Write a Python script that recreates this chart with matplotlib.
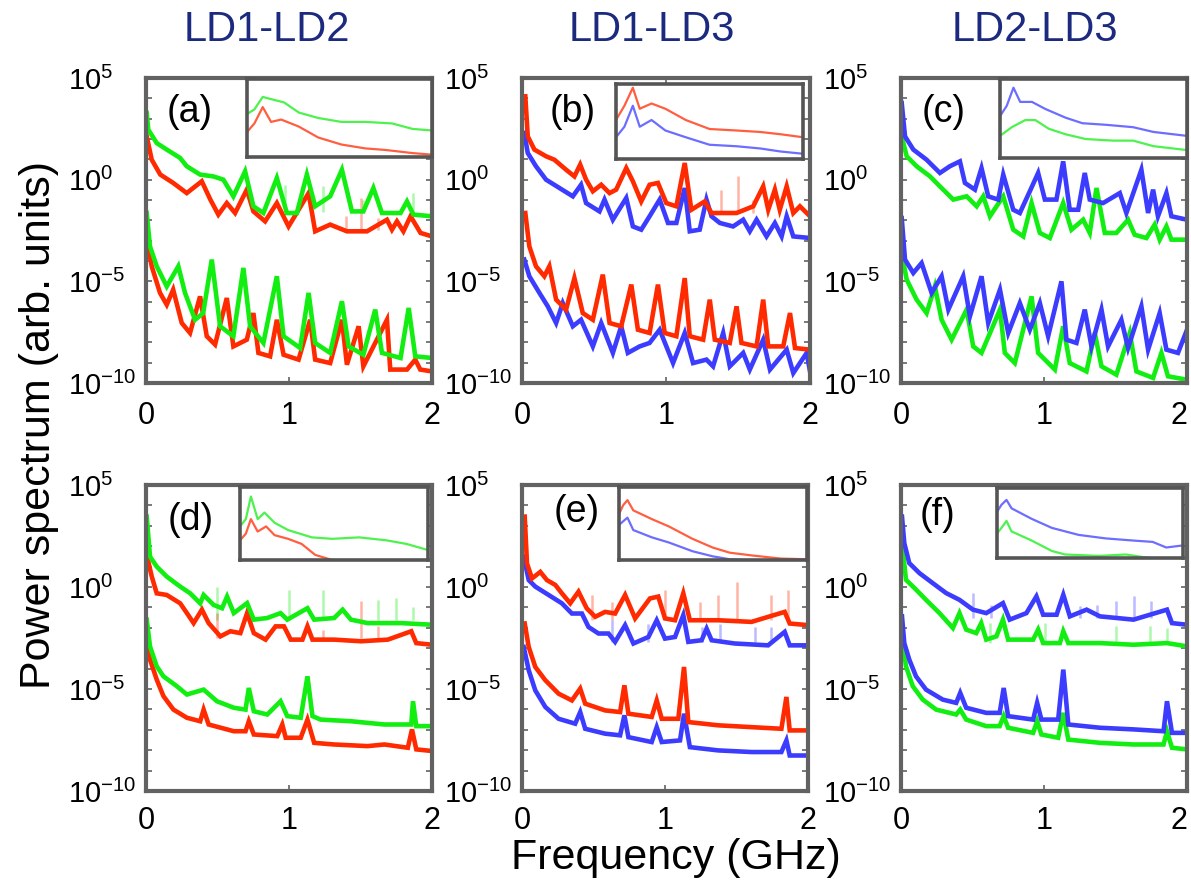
import numpy as np
import matplotlib
matplotlib.use("Agg")
import matplotlib.pyplot as plt

plt.rcParams['font.family'] = ['Liberation Sans', 'DejaVu Sans']
plt.rcParams['mathtext.fontset'] = 'custom'
plt.rcParams['mathtext.rm'] = 'Liberation Sans'
plt.rcParams['mathtext.it'] = 'Liberation Sans:italic'

# ---- data: frequency (GHz) and log10(power) ----
# panel (a)  LD1-LD2
a_grn_up_f = [0.005, 0.016, 0.075, 0.145, 0.238, 0.285, 0.378, 0.471, 0.541, 0.611, 0.693, 0.751, 0.821, 0.915,
              0.985, 1.055, 1.125, 1.183, 1.288, 1.37, 1.44, 1.52, 1.59, 1.65, 1.78, 1.825, 1.87, 2.0]
a_grn_up_p = [3.28, 2.46, 1.80, 1.48, 1.07, 0.66, 0.25, 0.16, 0.0, -0.82, 0.41, -1.31, -1.64, 0.08,
              -1.64, -1.64, 0.25, -1.31, -0.82, 0.49, -1.56, -1.56, -0.41, -1.64, -1.64, -1.07, -1.72, -1.80]
a_red_up_f = [0.005, 0.04, 0.10, 0.19, 0.285, 0.39, 0.45, 0.506, 0.565, 0.623, 0.705, 0.751, 0.833, 0.915,
              0.997, 1.137, 1.183, 1.288, 1.405, 1.545, 1.685, 1.72, 1.755, 1.80, 1.85, 1.92, 2.0]
a_red_up_p = [2.13, 0.98, 0.25, -0.16, -0.66, -0.08, -0.98, -1.72, -1.15, -1.64, -0.49, -1.56, -2.05, -1.15,
              -2.30, -0.66, -2.54, -2.21, -2.54, -2.54, -1.97, -2.46, -2.05, -2.54, -1.80, -2.62, -2.79]
a_grn_lo_f = [0.005, 0.028, 0.075, 0.145, 0.226, 0.273, 0.343, 0.40, 0.46, 0.518, 0.611, 0.681, 0.728, 0.821,
              0.915, 0.962, 1.078, 1.137, 1.183, 1.288, 1.37, 1.417, 1.52, 1.603, 1.65, 1.78, 1.837, 1.883, 2.0]
a_grn_lo_p = [-1.64, -3.28, -4.26, -5.25, -4.26, -5.57, -6.89, -6.56, -3.93, -7.21, -7.70, -4.34, -7.21, -8.03,
              -4.75, -7.70, -8.28, -5.57, -8.03, -8.52, -5.98, -8.20, -8.61, -6.39, -8.52, -8.77, -6.31, -8.69, -8.77]
a_red_lo_f = [0.005, 0.04, 0.098, 0.145, 0.19, 0.25, 0.308, 0.378, 0.425, 0.483, 0.565, 0.611, 0.705, 0.751,
              0.786, 0.868, 0.915, 0.962, 1.067, 1.148, 1.183, 1.288, 1.37, 1.405, 1.487, 1.52, 1.685, 1.708,
              1.825, 1.883, 1.918, 2.0]
a_red_lo_p = [-2.95, -4.26, -5.57, -6.15, -5.41, -7.05, -7.54, -5.74, -7.70, -8.11, -5.82, -8.20, -7.87, -6.56,
              -8.52, -8.69, -6.89, -8.61, -8.85, -6.89, -8.85, -9.02, -6.89, -9.10, -7.21, -9.18, -6.89, -9.34,
              -9.34, -8.85, -9.34, -9.43]
a_grn_spk_f = [0.973, 1.24, 1.52, 1.87]
a_grn_spk_p = [-0.25, -0.33, -1.0, -0.66]
a_red_spk_f = [1.40, 1.50, 1.62]
a_red_spk_p = [-1.8, -0.9, -1.9]

# panel (b)  LD1-LD3
b_red_up_f = [0.023, 0.04, 0.086, 0.167, 0.225, 0.306, 0.364, 0.404, 0.445, 0.492, 0.55, 0.608, 0.654, 0.724,
              0.77, 0.828, 0.886, 0.944, 1.002, 1.072, 1.13, 1.176, 1.269, 1.316, 1.49, 1.606, 1.675, 1.71,
              1.756, 1.79, 1.838, 1.884, 1.93, 2.0]
b_red_up_p = [4.10, 2.13, 1.48, 1.15, 0.98, 0.49, 0.16, 0.74, 0.0, -0.57, -0.25, -0.66, -0.49, 0.57,
              -0.08, -1.07, -0.25, -0.16, -1.15, -1.31, 0.82, -1.48, -1.07, -1.64, -1.64, -1.31, -0.33, -1.48,
              -0.49, -1.48, -0.33, -1.64, -1.31, -1.80]
b_blu_up_f = [0.016, 0.04, 0.097, 0.167, 0.26, 0.353, 0.41, 0.445, 0.538, 0.573, 0.631, 0.724, 0.77, 0.828,
              0.886, 0.956, 1.014, 1.072, 1.13, 1.165, 1.234, 1.281, 1.316, 1.374, 1.466, 1.536, 1.582, 1.629,
              1.698, 1.756, 1.803, 1.838, 1.884, 2.0]
b_blu_up_p = [2.30, 1.31, 0.66, 0.0, -0.41, -0.82, -0.25, -1.15, -1.56, -0.98, -1.97, -0.90, -2.30, -2.46,
              -1.80, -0.98, -2.13, -2.13, -0.41, -2.54, -2.46, -0.98, -1.80, -2.13, -2.30, -1.97, -2.54, -1.97,
              -2.79, -2.13, -2.79, -1.80, -2.79, -2.87]
b_red_lo_f = [0.023, 0.051, 0.097, 0.155, 0.19, 0.237, 0.306, 0.364, 0.422, 0.492, 0.561, 0.608, 0.689, 0.759,
              0.805, 0.886, 0.944, 0.991, 1.072, 1.13, 1.165, 1.258, 1.304, 1.339, 1.443, 1.49, 1.524, 1.629,
              1.675, 1.71, 1.814, 1.861, 1.896, 2.0]
b_red_lo_p = [-1.64, -3.28, -4.26, -4.75, -4.26, -5.90, -6.39, -4.84, -6.56, -6.89, -4.67, -7.05, -7.21, -5.16,
              -7.38, -7.54, -5.16, -7.54, -7.70, -4.84, -7.70, -7.87, -5.90, -7.87, -8.03, -6.23, -8.03, -8.20,
              -5.90, -8.20, -8.20, -6.56, -8.28, -8.36]
b_blu_lo_f = [0.016, 0.051, 0.121, 0.179, 0.237, 0.283, 0.353, 0.41, 0.492, 0.55, 0.631, 0.689, 0.735, 0.817,
              0.886, 0.956, 1.049, 1.13, 1.188, 1.281, 1.327, 1.397, 1.443, 1.536, 1.582, 1.675, 1.722, 1.838,
              1.884, 1.977, 2.0]
b_blu_lo_p = [-3.93, -4.75, -5.57, -6.23, -7.05, -6.07, -7.21, -6.89, -8.20, -7.05, -8.52, -7.21, -8.52, -8.20,
              -8.03, -7.38, -9.02, -7.54, -9.02, -8.85, -9.18, -7.54, -9.18, -8.52, -9.34, -7.87, -9.34, -8.36,
              -9.51, -8.52, -9.43]
b_red_spk_f = [1.385, 1.50, 1.606]
b_red_spk_p = [-0.49, 0.16, -1.0]

# panel (c)  LD2-LD3
c_blu_up_f = [0.005, 0.028, 0.086, 0.179, 0.272, 0.342, 0.412, 0.447, 0.517, 0.563, 0.61, 0.68, 0.715, 0.785,
              0.831, 0.901, 0.959, 1.006, 1.087, 1.134, 1.18, 1.239, 1.285, 1.32, 1.413, 1.53, 1.576, 1.681,
              1.728, 1.763, 1.797, 1.856, 1.891, 2.0]
c_blu_up_p = [3.77, 2.13, 1.48, 0.98, 0.33, 0.66, 0.90, -0.16, -0.49, 0.57, -0.82, -0.98, 0.25, -1.48,
              -1.64, -0.57, 0.33, -0.98, -0.98, 0.90, -1.48, -1.48, 0.33, -0.98, -1.15, -0.66, -1.64, 0.49,
              -1.64, -0.49, -1.80, -0.66, -1.80, -1.97]
c_grn_up_f = [0.005, 0.04, 0.109, 0.203, 0.272, 0.366, 0.459, 0.529, 0.575, 0.622, 0.668, 0.715, 0.785, 0.855,
              0.913, 0.971, 1.041, 1.134, 1.192, 1.274, 1.32, 1.367, 1.425, 1.506, 1.588, 1.634, 1.716, 1.774,
              1.809, 1.856, 1.891, 2.0]
c_grn_up_p = [2.13, 1.15, 0.66, 0.16, -0.33, -0.98, -0.82, -1.31, -0.82, -1.80, -1.31, -0.82, -2.46, -2.79,
              -1.15, -2.62, -2.87, -1.15, -2.46, -1.97, -2.62, -0.41, -2.62, -2.62, -1.97, -2.71, -2.87, -2.21,
              -2.95, -2.30, -2.95, -2.95]
c_blu_lo_f = [0.005, 0.028, 0.086, 0.144, 0.214, 0.284, 0.331, 0.435, 0.482, 0.563, 0.61, 0.692, 0.75, 0.831,
              0.901, 0.971, 1.029, 1.122, 1.157, 1.227, 1.285, 1.332, 1.402, 1.448, 1.541, 1.588, 1.681, 1.728,
              1.809, 1.856, 1.937, 2.0]
c_blu_lo_p = [-1.89, -3.93, -4.59, -4.10, -5.57, -4.75, -6.39, -4.75, -6.72, -4.75, -7.05, -5.41, -7.54, -6.07,
              -7.38, -6.07, -7.70, -5.0, -7.87, -8.03, -6.39, -8.20, -6.39, -8.20, -6.89, -8.28, -6.23, -8.36,
              -6.56, -8.36, -8.52, -7.38]
c_grn_lo_f = [0.005, 0.04, 0.109, 0.179, 0.237, 0.284, 0.354, 0.459, 0.505, 0.563, 0.692, 0.726, 0.796, 0.913,
              0.959, 1.076, 1.134, 1.18, 1.297, 1.355, 1.402, 1.506, 1.6, 1.646, 1.763, 1.821, 1.867, 2.0]
c_grn_lo_p = [-3.61, -4.92, -5.90, -6.56, -5.25, -6.89, -7.87, -6.39, -8.20, -8.52, -6.39, -8.52, -9.02, -5.74,
              -8.52, -9.34, -7.21, -9.02, -9.43, -7.54, -9.18, -9.59, -7.54, -9.43, -9.75, -8.52, -9.67, -9.84]

# panel (d)  LD1-LD2
d_grn_up_f = [0.005, 0.028, 0.075, 0.145, 0.239, 0.309, 0.379, 0.403, 0.473, 0.532, 0.567, 0.614, 0.707, 0.754,
              0.848, 0.941, 0.988, 1.129, 1.176, 1.316, 1.375, 1.433, 1.55, 1.667, 1.785, 2.0]
d_grn_up_p = [3.45, 1.49, 1.0, 0.51, 0.02, -0.31, -0.80, -0.39, -0.88, -1.04, -0.47, -1.28, -0.79, -1.60,
              -1.52, -1.28, -1.60, -1.04, -1.60, -1.52, -1.11, -1.60, -1.77, -1.77, -1.77, -1.85]
d_red_up_f = [0.005, 0.04, 0.075, 0.145, 0.239, 0.286, 0.333, 0.391, 0.438, 0.52, 0.59, 0.66, 0.707, 0.754,
              0.836, 0.906, 0.965, 1.012, 1.094, 1.129, 1.164, 1.316, 1.503, 1.691, 1.855, 1.89, 2.0]
d_red_up_p = [1.58, 0.52, -0.31, -0.39, -0.80, -1.28, -1.77, -1.11, -1.77, -2.42, -2.17, -2.26, -1.28, -2.26,
              -2.58, -1.93, -1.93, -2.58, -2.58, -1.93, -2.58, -2.58, -2.66, -2.58, -2.17, -2.75, -2.83]
d_grn_lo_f = [0.005, 0.028, 0.075, 0.122, 0.215, 0.286, 0.403, 0.496, 0.614, 0.696, 0.719, 0.754, 0.848, 0.941,
              0.988, 1.082, 1.129, 1.164, 1.222, 1.433, 1.667, 1.855, 1.867, 1.89, 2.0]
d_grn_lo_p = [-1.60, -2.91, -3.89, -4.38, -4.86, -5.27, -5.03, -5.60, -5.92, -6.01, -4.95, -6.09, -6.25, -5.60,
              -6.33, -6.41, -4.38, -6.33, -6.50, -6.58, -6.74, -6.74, -5.60, -6.82, -6.82]
d_red_lo_f = [0.005, 0.028, 0.075, 0.122, 0.192, 0.286, 0.379, 0.403, 0.438, 0.614, 0.696, 0.719, 0.754, 0.918,
              0.953, 0.977, 1.082, 1.129, 1.176, 1.316, 1.55, 1.667, 1.831, 1.86, 1.89, 2.0]
d_red_lo_p = [-2.75, -3.56, -4.54, -5.35, -6.01, -6.41, -6.58, -6.01, -6.74, -7.07, -7.07, -6.58, -7.23, -7.31,
              -6.74, -7.39, -7.39, -6.50, -7.64, -7.72, -7.80, -7.72, -7.88, -6.98, -7.96, -8.04]
d_grn_spk_f = [0.497, 1.0, 1.24, 1.62, 1.75, 1.87]
d_grn_spk_p = [0.02, -0.13, -0.13, -0.63, -0.54, -1.0]
d_red_spk_f = [0.497, 1.24, 1.50, 1.62]
d_red_spk_p = [-1.28, -2.1, -0.7, -1.9]

# panel (e)  LD1-LD3
e_red_up_f = [0.019, 0.035, 0.07, 0.128, 0.174, 0.233, 0.279, 0.337, 0.395, 0.453, 0.512, 0.581, 0.651, 0.721,
              0.791, 0.895, 0.953, 1.0, 1.07, 1.128, 1.174, 1.372, 1.605, 1.837, 1.872, 2.0]
e_red_up_p = [3.45, 1.15, 0.42, 0.74, 0.34, 0.10, -0.31, -0.80, -0.23, -1.05, -1.46, -1.22, -1.30, -0.39,
              -1.54, -0.56, -0.47, -1.54, -1.63, -0.31, -1.63, -1.63, -1.71, -1.22, -1.79, -1.87]
e_blu_up_f = [0.012, 0.047, 0.093, 0.186, 0.279, 0.349, 0.419, 0.465, 0.535, 0.605, 0.651, 0.721, 0.779, 0.884,
              0.942, 1.0, 1.07, 1.128, 1.163, 1.256, 1.291, 1.326, 1.488, 1.721, 1.837, 1.872, 2.0]
e_blu_up_p = [1.48, 0.34, 0.02, -0.39, -0.80, -1.30, -1.30, -1.96, -2.28, -2.28, -2.69, -1.87, -2.77, -2.45,
              -1.63, -2.53, -2.45, -1.38, -2.69, -2.61, -2.04, -2.61, -2.77, -2.86, -2.20, -2.86, -2.86]
e_red_lo_f = [0.019, 0.047, 0.093, 0.163, 0.256, 0.349, 0.407, 0.442, 0.581, 0.686, 0.716, 0.744, 0.907, 0.942,
              0.977, 1.093, 1.133, 1.163, 1.372, 1.605, 1.814, 1.849, 1.872, 2.0]
e_red_lo_p = [-1.79, -2.94, -3.92, -4.57, -5.23, -5.56, -4.98, -5.72, -6.05, -6.13, -4.82, -6.21, -6.37, -5.56,
              -6.46, -6.46, -3.92, -6.62, -6.78, -6.87, -6.95, -5.39, -7.03, -7.03]
e_blu_lo_f = [0.012, 0.047, 0.093, 0.163, 0.256, 0.372, 0.407, 0.442, 0.581, 0.686, 0.716, 0.744, 0.907, 0.942,
              0.977, 1.105, 1.133, 1.174, 1.372, 1.605, 1.814, 1.849, 1.872, 2.0]
e_blu_lo_p = [-2.94, -4.08, -5.07, -5.88, -6.46, -6.70, -6.13, -6.95, -7.19, -7.27, -6.29, -7.36, -7.60, -6.87,
              -7.60, -7.52, -6.21, -7.85, -8.01, -8.09, -8.09, -7.52, -8.26, -8.26]
e_red_spk_f = [0.488, 0.628, 1.0, 1.244, 1.372, 1.5, 1.744, 1.86]
e_red_spk_p = [-0.40, -0.73, -0.16, -0.73, -0.40, 0.25, -0.40, -0.16]
e_blu_spk_f = [0.628, 0.884, 1.256, 1.384, 1.628, 1.744]
e_blu_spk_p = [-1.63, -1.79, -1.96, -1.79, -1.96, -1.96]

# panel (f)  LD2-LD3
f_blu_up_f = [0.007, 0.023, 0.058, 0.129, 0.222, 0.316, 0.409, 0.503, 0.596, 0.713, 0.76, 0.877, 0.947, 0.994,
              1.088, 1.135, 1.181, 1.298, 1.392, 1.626, 1.86, 1.895, 2.0]
f_blu_up_p = [3.45, 2.15, 1.17, 0.68, 0.19, -0.30, -0.63, -1.11, -1.28, -0.79, -1.60, -1.28, -0.46, -1.36,
              -1.36, -0.38, -1.44, -1.11, -1.44, -1.60, -1.11, -1.77, -1.85]
f_grn_up_f = [0.007, 0.035, 0.094, 0.175, 0.269, 0.363, 0.409, 0.456, 0.526, 0.561, 0.596, 0.667, 0.713, 0.749,
              0.924, 0.959, 0.994, 1.111, 1.135, 1.17, 1.392, 1.626, 1.86, 2.0]
f_grn_up_p = [2.15, 0.35, -0.05, -0.63, -1.28, -2.01, -1.28, -2.09, -2.26, -1.77, -2.58, -2.42, -1.60, -2.58,
              -2.58, -2.09, -2.75, -2.75, -2.17, -2.75, -2.75, -2.83, -2.75, -2.91]
f_blu_lo_f = [0.007, 0.023, 0.058, 0.105, 0.175, 0.292, 0.386, 0.414, 0.456, 0.596, 0.69, 0.718, 0.749, 0.924,
              0.952, 0.982, 1.099, 1.135, 1.17, 1.392, 1.626, 1.836, 1.86, 1.895, 2.0]
f_blu_lo_p = [-1.44, -2.75, -3.56, -4.38, -5.03, -5.52, -5.68, -5.19, -5.92, -6.17, -6.17, -4.95, -6.33, -6.50,
              -5.68, -6.50, -6.50, -4.05, -6.74, -6.90, -6.98, -7.07, -5.60, -7.15, -7.15]
f_grn_lo_f = [0.007, 0.035, 0.082, 0.152, 0.246, 0.386, 0.414, 0.456, 0.596, 0.69, 0.718, 0.749, 0.924, 0.952,
              0.982, 1.099, 1.135, 1.17, 1.392, 1.626, 1.836, 1.86, 1.895, 2.0]
f_grn_lo_p = [-2.42, -3.89, -4.86, -5.52, -6.01, -6.25, -6.01, -6.50, -6.82, -6.82, -6.33, -6.90, -7.15, -6.58,
              -7.23, -7.39, -6.17, -7.48, -7.64, -7.72, -7.72, -7.07, -7.88, -7.96]
f_blu_spk_f = [0.503, 0.632, 1.25, 1.37, 1.5, 1.63, 1.75]
f_blu_spk_p = [-0.30, -0.87, -0.95, -0.87, -0.71, -0.46, -0.71]
f_grn_spk_f = [0.62, 1.006, 1.5, 1.74, 1.86]
f_grn_spk_p = [-1.77, -1.77, -1.93, -1.93, -2.01]

# insets (no scale given: relative position 0..1 inside each inset)
ia_grn_x = [0, 0.04, 0.085, 0.15, 0.2, 0.28, 0.385, 0.51, 0.64, 0.785, 0.895, 1.0]
ia_grn_y = [0.55, 0.61, 0.77, 0.73, 0.70, 0.57, 0.50, 0.45, 0.45, 0.43, 0.36, 0.34]
ia_red_x = [0, 0.04, 0.085, 0.13, 0.185, 0.28, 0.385, 0.51, 0.64, 0.75, 0.895, 1.0]
ia_red_y = [0.32, 0.43, 0.64, 0.45, 0.48, 0.39, 0.25, 0.16, 0.11, 0.09, 0.05, 0.03]
ib_red_x = [0, 0.045, 0.09, 0.127, 0.19, 0.264, 0.373, 0.5, 0.645, 0.773, 0.88, 1.0]
ib_red_y = [0.52, 0.71, 0.95, 0.67, 0.74, 0.67, 0.52, 0.40, 0.38, 0.36, 0.33, 0.29]
ib_blu_x = [0, 0.045, 0.09, 0.127, 0.19, 0.264, 0.373, 0.5, 0.645, 0.773, 0.88, 1.0]
ib_blu_y = [0.29, 0.43, 0.71, 0.43, 0.52, 0.38, 0.29, 0.19, 0.17, 0.14, 0.10, 0.07]
ic_blu_x = [0, 0.036, 0.072, 0.108, 0.171, 0.243, 0.351, 0.441, 0.568, 0.712, 0.82, 1.0]
ic_blu_y = [0.53, 0.66, 0.89, 0.71, 0.71, 0.62, 0.51, 0.44, 0.42, 0.39, 0.33, 0.28]
ic_grn_x = [0, 0.063, 0.135, 0.189, 0.261, 0.351, 0.459, 0.604, 0.712, 0.82, 1.0]
ic_grn_y = [0.28, 0.39, 0.48, 0.48, 0.37, 0.30, 0.24, 0.22, 0.22, 0.15, 0.10]
id_grn_x = [0, 0.031, 0.058, 0.094, 0.13, 0.184, 0.256, 0.382, 0.49, 0.634, 0.778, 0.886, 0.995]
id_grn_y = [0.46, 0.56, 0.87, 0.56, 0.65, 0.51, 0.41, 0.31, 0.29, 0.31, 0.27, 0.22, 0.14]
id_red_x = [0, 0.031, 0.058, 0.094, 0.139, 0.184, 0.256, 0.328, 0.4, 0.49, 0.562]
id_red_y = [0.27, 0.36, 0.56, 0.39, 0.46, 0.34, 0.29, 0.22, 0.07, 0.0, -0.02]
ie_red_x = [0, 0.022, 0.045, 0.076, 0.175, 0.265, 0.391, 0.499, 0.589, 0.715, 0.859, 1.0]
ie_red_y = [0.63, 0.75, 0.82, 0.68, 0.56, 0.46, 0.29, 0.17, 0.10, 0.06, 0.02, 0.01]
ie_blu_x = [0, 0.022, 0.045, 0.076, 0.175, 0.265, 0.391, 0.499, 0.589, 0.715, 0.859, 1.0]
ie_blu_y = [0.48, 0.53, 0.58, 0.41, 0.31, 0.24, 0.12, 0.05, 0.01, -0.005, -0.01, -0.01]
if_blu_x = [0, 0.024, 0.051, 0.078, 0.186, 0.295, 0.439, 0.584, 0.729, 0.837, 0.91, 1.0]
if_blu_y = [0.66, 0.76, 0.83, 0.71, 0.56, 0.43, 0.33, 0.28, 0.25, 0.23, 0.15, 0.18]
if_grn_x = [0, 0.024, 0.051, 0.078, 0.186, 0.295, 0.367, 0.548, 0.693, 0.819, 0.91]
if_grn_y = [0.35, 0.43, 0.53, 0.38, 0.25, 0.10, 0.05, 0.03, 0.05, 0.0, -0.03]

column_titles = ['LD1-LD2', 'LD1-LD3', 'LD2-LD3']
panel_tags = ['(a)', '(b)', '(c)', '(d)', '(e)', '(f)']
ytick_vals = [1e5, 1e0, 1e-5, 1e-10]
ytick_text = ['$10^{5}$', '$10^{0}$', '$10^{-5}$', '$10^{-10}$']
xtick_vals = [0, 1, 2]

GREEN = '#12ee12'
RED = '#ff2a00'
BLUE = '#3c3cff'
FRAME = '#626262'

W, H = 1191, 891


def px_box(x0, x1, ytop, ybot):
    return [x0 / W, 1 - ybot / H, (x1 - x0) / W, (ybot - ytop) / H]


def make_main(fig, box, bottom_row, last_col):
    ax = fig.add_axes(box)
    ax.set_yscale('log')
    ax.set_xlim(0, 2)
    ax.set_ylim(1e-10, 1e5)
    ax.set_xticks(xtick_vals)
    ax.set_xticklabels([str(v) for v in xtick_vals])
    ax.set_yticks(ytick_vals)
    ax.set_yticklabels(ytick_text)
    ax.set_yticks([10.0 ** k for k in range(-10, 6)], minor=True)
    ax.yaxis.set_minor_formatter(plt.NullFormatter())
    ax.tick_params(axis='both', which='both', direction='in', top=True, right=True,
                   color=FRAME, length=4, width=1.2)
    ax.tick_params(axis='x', labelsize=22, pad=11 if bottom_row else 13)
    ax.tick_params(axis='y', which='major', labelsize=21, pad=56)
    for lbl in ax.get_yticklabels():
        lbl.set_horizontalalignment('left')
    if last_col:
        ax.get_xticklabels()[-1].set_horizontalalignment('right')
    for sp in ax.spines.values():
        sp.set_color(FRAME)
        sp.set_linewidth(3.0)
    return ax


def make_inset(fig, box):
    ax = fig.add_axes(box)
    ax.set_xlim(0, 1)
    ax.set_ylim(0, 1)
    ax.set_xticks([])
    ax.set_yticks([])
    for sp in ax.spines.values():
        sp.set_color('#555555')
        sp.set_linewidth(2.6)
    return ax


def trace(ax, f, logp, color):
    ax.plot(f, 10.0 ** np.array(logp), color=color, lw=3.3, solid_joinstyle='miter')


def spikes(ax, f, logp, base, color):
    # pale single-bin spikes sticking out of the trace
    ax.vlines(f, 10.0 ** base, 10.0 ** np.array(logp), color=color, lw=1.8, alpha=0.35)


fig = plt.figure(figsize=(W / 100, H / 100), dpi=100)

main_boxes = [px_box(146, 432, 78, 383), px_box(522, 810, 78, 383), px_box(901, 1187, 78, 383),
              px_box(146, 432, 485, 791), px_box(522, 808, 485, 791), px_box(901, 1187, 485, 791)]
axs = [make_main(fig, b, i >= 3, i % 3 == 2) for i, b in enumerate(main_boxes)]

spikes(axs[0], a_grn_spk_f, a_grn_spk_p, -1.6, GREEN)
spikes(axs[0], a_red_spk_f, a_red_spk_p, -2.5, RED)
trace(axs[0], a_red_up_f, a_red_up_p, RED)
trace(axs[0], a_grn_up_f, a_grn_up_p, GREEN)
trace(axs[0], a_red_lo_f, a_red_lo_p, RED)
trace(axs[0], a_grn_lo_f, a_grn_lo_p, GREEN)

spikes(axs[1], b_red_spk_f, b_red_spk_p, -1.64, RED)
trace(axs[1], b_blu_up_f, b_blu_up_p, BLUE)
trace(axs[1], b_red_up_f, b_red_up_p, RED)
trace(axs[1], b_blu_lo_f, b_blu_lo_p, BLUE)
trace(axs[1], b_red_lo_f, b_red_lo_p, RED)

trace(axs[2], c_grn_up_f, c_grn_up_p, GREEN)
trace(axs[2], c_blu_up_f, c_blu_up_p, BLUE)
trace(axs[2], c_grn_lo_f, c_grn_lo_p, GREEN)
trace(axs[2], c_blu_lo_f, c_blu_lo_p, BLUE)

spikes(axs[3], d_grn_spk_f, d_grn_spk_p, -1.6, GREEN)
spikes(axs[3], d_red_spk_f, d_red_spk_p, -2.5, RED)
trace(axs[3], d_red_up_f, d_red_up_p, RED)
trace(axs[3], d_grn_up_f, d_grn_up_p, GREEN)
trace(axs[3], d_red_lo_f, d_red_lo_p, RED)
trace(axs[3], d_grn_lo_f, d_grn_lo_p, GREEN)

spikes(axs[4], e_red_spk_f, e_red_spk_p, -1.6, RED)
spikes(axs[4], e_blu_spk_f, e_blu_spk_p, -2.7, BLUE)
trace(axs[4], e_blu_up_f, e_blu_up_p, BLUE)
trace(axs[4], e_red_up_f, e_red_up_p, RED)
trace(axs[4], e_blu_lo_f, e_blu_lo_p, BLUE)
trace(axs[4], e_red_lo_f, e_red_lo_p, RED)

spikes(axs[5], f_blu_spk_f, f_blu_spk_p, -1.5, BLUE)
spikes(axs[5], f_grn_spk_f, f_grn_spk_p, -2.75, GREEN)
trace(axs[5], f_grn_up_f, f_grn_up_p, GREEN)
trace(axs[5], f_blu_up_f, f_blu_up_p, BLUE)
trace(axs[5], f_grn_lo_f, f_grn_lo_p, GREEN)
trace(axs[5], f_blu_lo_f, f_blu_lo_p, BLUE)

# insets
inset_boxes = [px_box(247, 432, 79, 157), px_box(616, 803, 84, 159), px_box(1000, 1187, 79, 158),
               px_box(240, 428, 487, 560), px_box(619, 807, 487, 560), px_box(997, 1183, 488, 558)]
inset_traces = [
    [(ia_grn_x, ia_grn_y, GREEN), (ia_red_x, ia_red_y, RED)],
    [(ib_red_x, ib_red_y, RED), (ib_blu_x, ib_blu_y, BLUE)],
    [(ic_blu_x, ic_blu_y, BLUE), (ic_grn_x, ic_grn_y, GREEN)],
    [(id_grn_x, id_grn_y, GREEN), (id_red_x, id_red_y, RED)],
    [(ie_red_x, ie_red_y, RED), (ie_blu_x, ie_blu_y, BLUE)],
    [(if_blu_x, if_blu_y, BLUE), (if_grn_x, if_grn_y, GREEN)],
]
for box, lines in zip(inset_boxes, inset_traces):
    iax = make_inset(fig, box)
    for x, y, col in lines:
        iax.plot(x, y, color=col, lw=1.6, alpha=0.75)

# panel tags
tag_pos = [(190, 112), (573, 112), (944, 112), (191, 520), (577, 512), (938, 515)]
for tag, (px, py) in zip(panel_tags, tag_pos):
    fig.text(px / W, 1 - py / H, tag, ha='center', va='center', fontsize=27, color='black')

# column titles
for title, px in zip(column_titles, [267, 652, 1035]):
    fig.text(px / W, 1 - 30 / H, title, ha='center', va='center', fontsize=30, color='#1b2a7e')

fig.text(39 / W, 1 - 425 / H, 'Power spectrum (arb. units)', rotation=90,
         ha='center', va='center', fontsize=31)
fig.text(676 / W, 1 - 858 / H, 'Frequency (GHz)', ha='center', va='center', fontsize=31)

fig.savefig('out.png', dpi=100)
